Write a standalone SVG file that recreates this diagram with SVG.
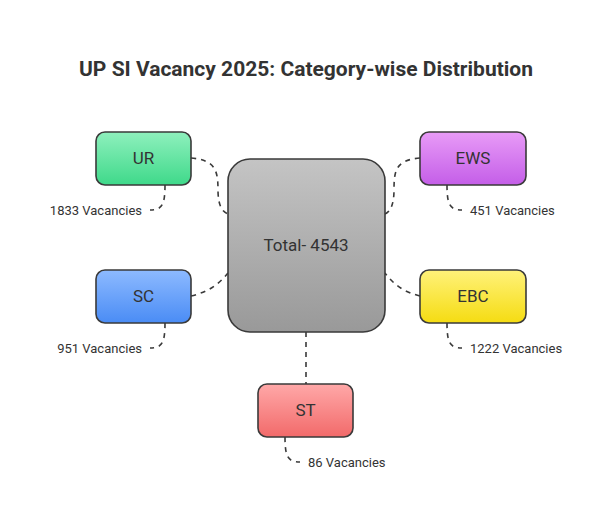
<svg xmlns="http://www.w3.org/2000/svg" width="612" height="522" viewBox="0 0 612 522">
<defs>
<linearGradient id="gUR" x1="0" y1="0" x2="0" y2="1"><stop offset="0" stop-color="#8ef0bd"/><stop offset="1" stop-color="#3fd98a"/></linearGradient>
<linearGradient id="gSC" x1="0" y1="0" x2="0" y2="1"><stop offset="0" stop-color="#8dbaff"/><stop offset="1" stop-color="#4a8cf5"/></linearGradient>
<linearGradient id="gEWS" x1="0" y1="0" x2="0" y2="1"><stop offset="0" stop-color="#e89bf7"/><stop offset="1" stop-color="#c45ee8"/></linearGradient>
<linearGradient id="gEBC" x1="0" y1="0" x2="0" y2="1"><stop offset="0" stop-color="#fff27a"/><stop offset="1" stop-color="#f5dc12"/></linearGradient>
<linearGradient id="gST" x1="0" y1="0" x2="0" y2="1"><stop offset="0" stop-color="#ffa8a8"/><stop offset="1" stop-color="#f26a6a"/></linearGradient>
<linearGradient id="gT" x1="0" y1="0" x2="0" y2="1"><stop offset="0" stop-color="#c4c4c4"/><stop offset="1" stop-color="#999"/></linearGradient>
</defs>
<style>
.box{stroke:#3a3a3a;stroke-width:1.6}
.lbl{font-family:Roboto,"Liberation Sans",sans-serif;font-size:17px;fill:#333;text-anchor:middle}
.sm{font-family:Roboto,"Liberation Sans",sans-serif;font-size:13px;fill:#333}
.c{fill:none;stroke:#3a3a3a;stroke-width:1.6;stroke-dasharray:5,5}
</style>
<rect width="612" height="522" fill="#fff"/>
<text x="306" y="76" font-family="Roboto,'Liberation Sans',sans-serif" font-size="21" font-weight="bold" fill="#333" text-anchor="middle">UP SI Vacancy 2025: Category-wise Distribution</text>
<g id="connectors">
<path class="c" d="M191,158 C215,160 218,170 218,190 C218,205 222,212 228,214"/>
<path class="c" d="M191,296 C208,292 218,285 228,273"/>
<path class="c" d="M420,158 C396,160 394,170 394,190 C394,205 390,212 385,214"/>
<path class="c" d="M420,296 C404,292 394,285 385,273"/>
<path class="c" d="M306,332 L306,384"/>
<path class="c" d="M165,185 C165,205 162,210 150,210"/>
<path class="c" d="M165,323 C165,343 162,348 150,348"/>
<path class="c" d="M447,185 C447,205 450,210 462,210"/>
<path class="c" d="M447,323 C447,343 450,348 462,348"/>
<path class="c" d="M285,437 C285,457 288,462 300,462"/>
<path d="M233,214h7M233,273h7M372,214h7M372,273h7" stroke="#3a3a3a" stroke-width="1.6"/>
</g>
<g id="total"><rect class="box" x="228" y="159" width="157" height="173" rx="22" fill="url(#gT)"/><text class="lbl" x="306" y="251">Total- 4543</text></g>
<g id="ur"><rect class="box" x="96" y="132" width="95" height="53" rx="9" fill="url(#gUR)"/><text class="lbl" x="143.5" y="164">UR</text></g>
<g id="sc"><rect class="box" x="96" y="270" width="95" height="53" rx="9" fill="url(#gSC)"/><text class="lbl" x="143.5" y="302">SC</text></g>
<g id="ews"><rect class="box" x="420" y="132" width="106" height="53" rx="9" fill="url(#gEWS)"/><text class="lbl" x="473" y="164">EWS</text></g>
<g id="ebc"><rect class="box" x="420" y="270" width="106" height="53" rx="9" fill="url(#gEBC)"/><text class="lbl" x="473" y="302">EBC</text></g>
<g id="st"><rect class="box" x="258" y="384" width="95" height="53" rx="9" fill="url(#gST)"/><text class="lbl" x="305.5" y="416">ST</text></g>
<g id="notes">
<text class="sm" x="142" y="215" text-anchor="end">1833 Vacancies</text>
<text class="sm" x="142" y="353" text-anchor="end">951 Vacancies</text>
<text class="sm" x="470" y="215">451 Vacancies</text>
<text class="sm" x="470" y="353">1222 Vacancies</text>
<text class="sm" x="308" y="467">86 Vacancies</text>
</g>
</svg>
